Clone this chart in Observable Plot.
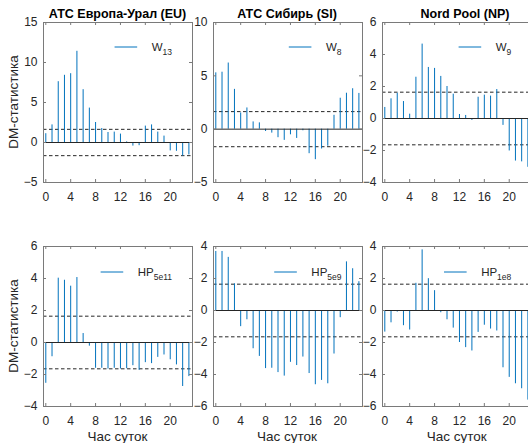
<!DOCTYPE html>
<html><head><meta charset="utf-8">
<script src="https://cdn.jsdelivr.net/npm/d3@7"></script>
<script src="https://cdn.jsdelivr.net/npm/@observablehq/plot@0.6"></script>
<style>
html,body{margin:0;padding:0;background:#fff;overflow:hidden;}
#wrap{position:relative;width:528px;height:443px;overflow:hidden;}
#wrap svg{position:absolute;}
</style></head><body><div id="wrap"></div>
<script>
// ---- data ----
const hours = d3.range(24);
const xTicks = [0, 4, 8, 12, 16, 20];
const titles = ["АТС Европа-Урал (EU)", "АТС Сибирь (SI)", "Nord Pool (NP)"];
const yLabel = "DM-статистика";
const xLabel = "Час суток";
const seriesMain = ["W", "W", "W", "HP", "HP", "HP"];
const seriesSub = ["13", "8", "9", "5e11", "5e9", "1e8"];
const critical = 1.645;

const eu_W13 = [1.1, 2.2, 7.6, 8.4, 8.6, 11.4, 6.6, 4.3, 2.5, 1.75, 1.25, 1.3, 1.05, 0.08, -0.45, -0.4, 2.05, 2.2, 1.3, 0.8, -1.05, -1.1, -1.7, -1.55];
const si_W8 = [5.28, 5.34, 6.2, 3.73, 1.52, 1.99, 0.68, 0.59, -0.22, -0.37, -0.8, -1.05, -0.53, -0.87, -0.15, -2.3, -2.86, -1.86, -1.6, 1.3, 2.9, 3.37, 3.79, 3.35];
const np_W9 = [0.69, 1.23, 1.58, 1.06, 0.27, 2.58, 4.65, 3.19, 3.13, 2.63, 2.0, 1.52, 0.25, 0.19, -0.12, 1.33, 1.46, 1.4, 1.81, -0.43, -2.03, -2.66, -2.71, -3.05];
const eu_HP5e11 = [-2.55, -0.89, 4.02, 3.89, 3.52, 4.06, 0.56, -0.23, -1.61, -1.61, -1.66, -1.61, -1.66, -1.64, -1.45, -1.74, -1.26, -1.32, -0.93, -0.78, -1.08, -1.4, -2.75, -2.13];
const si_HP5e9 = [3.69, 3.69, 3.32, 1.67, -1.01, -0.58, -2.39, -2.87, -3.63, -3.61, -3.88, -4.1, -3.24, -3.44, -2.91, -3.94, -4.64, -4.37, -4.58, -2.72, -0.45, 3.04, 2.61, 1.8];
const np_HP1e8 = [-1.35, -0.77, -0.1, -0.95, -1.22, 1.7, 3.79, 1.99, 1.24, -0.14, -0.58, -1.1, -2.0, -2.32, -2.53, -1.37, -0.92, -1.16, -1.28, -3.58, -4.18, -4.58, -4.89, -5.6];

const seriesValues = [eu_W13, si_W8, np_W9, eu_HP5e11, si_HP5e9, np_HP1e8];
const yDomains = [[-5, 15], [-5, 10], [-4, 6], [-4, 6], [-6, 4], [-6, 4]];
const yTicks = [[-5, 0, 5, 10, 15], [-5, 0, 5, 10], [-4, -2, 0, 2, 4, 6], [-4, -2, 0, 2, 4, 6], [-6, -4, -2, 0, 2, 4], [-6, -4, -2, 0, 2, 4]];

// ---- layout ----
const frameLefts = [43, 212.5, 382.3];
const frameTops = [22, 246];
const fw = 149, fh = 160;
const ml = 40, mr = 8, mt = 6, mb = 26;
const FONT = "'Liberation Sans', Arial, Helvetica, sans-serif";
const axisColor = "#7a7a7a";

const wrap = document.getElementById("wrap");

seriesValues.forEach((vals, i) => {
  const col = i % 3, row = Math.floor(i / 3);
  const data = hours.map((h, k) => ({hour: h, value: vals[k]}));
  const chart = Plot.plot({
    width: fw + ml + mr, height: fh + mt + mb,
    marginLeft: ml, marginRight: mr, marginTop: mt, marginBottom: mb,
    style: {fontFamily: FONT, fontSize: "12px", color: "#262626", background: "transparent", overflow: "visible"},
    x: {domain: [-0.37, 23.58], ticks: xTicks, tickSize: 0, tickPadding: 10, label: null},
    y: {domain: yDomains[i], ticks: yTicks[i], tickSize: 0, tickPadding: 6, label: null},
    marks: [
      Plot.ruleY([critical, -critical], {stroke: "#262626", strokeWidth: 1, strokeDasharray: "3.5,2.5"}),
      Plot.ruleX(data, {x: "hour", y1: 0, y2: "value", stroke: "#0072BD", strokeWidth: 1}),
      Plot.ruleY([0], {stroke: "#262626", strokeWidth: 1}),
      Plot.tickX(xTicks, {x: d => d, insetTop: fh - 3, stroke: axisColor}),
      Plot.tickX(xTicks, {x: d => d, insetBottom: fh - 3, stroke: axisColor}),
      Plot.tickY(yTicks[i], {y: d => d, insetRight: fw - 3, stroke: axisColor}),
      Plot.tickY(yTicks[i], {y: d => d, insetLeft: fw - 3, stroke: axisColor}),
      Plot.frame({stroke: axisColor})
    ]
  });
  chart.style.left = (frameLefts[col] - ml) + "px";
  chart.style.top = (frameTops[row] - mt) + "px";
  wrap.appendChild(chart);
});

// ---- overlay: titles, axis labels, legends ----
const overlay = d3.create("svg")
  .attr("width", 528).attr("height", 443)
  .style("left", "0px").style("top", "0px")
  .style("font-family", FONT)
  .style("pointer-events", "none");
wrap.appendChild(overlay.node());

const titleCenters = [117.5, 287, 465];
titles.forEach((t, c) => {
  overlay.append("text").attr("x", titleCenters[c]).attr("y", 18)
    .attr("text-anchor", "middle").attr("font-weight", "bold").attr("font-size", 12.5)
    .attr("fill", "#000").text(t);
});

frameTops.forEach(top => {
  const cy = top + fh / 2;
  overlay.append("text").attr("transform", `translate(13.5,${cy}) rotate(-90)`)
    .attr("text-anchor", "middle").attr("dy", "0.35em").attr("font-size", 13.5)
    .attr("fill", "#262626").text(yLabel);
});

frameLefts.forEach(left => {
  overlay.append("text").attr("x", left + fw / 2).attr("y", 441)
    .attr("text-anchor", "middle").attr("font-size", 13.5)
    .attr("fill", "#262626").text(xLabel);
});

seriesValues.forEach((vals, i) => {
  const col = i % 3, row = Math.floor(i / 3);
  const right = frameLefts[col] + fw - 20;
  const ly = frameTops[row] + (row === 0 ? 25 : 26);
  const txt = overlay.append("text").attr("x", right).attr("y", ly + 3.5)
    .attr("text-anchor", "end").attr("font-size", 11.5).attr("fill", "#262626");
  txt.append("tspan").text(seriesMain[i]);
  txt.append("tspan").attr("font-size", 8.5).attr("dy", 4.5).text(seriesSub[i]);
  const bb = txt.node().getBBox();
  const x2 = bb.x - 14.5;
  overlay.append("line").attr("x1", x2 - 22.6).attr("x2", x2)
    .attr("y1", ly).attr("y2", ly).attr("stroke", "#0072BD").attr("stroke-width", 1);
});
</script>
</body></html>
